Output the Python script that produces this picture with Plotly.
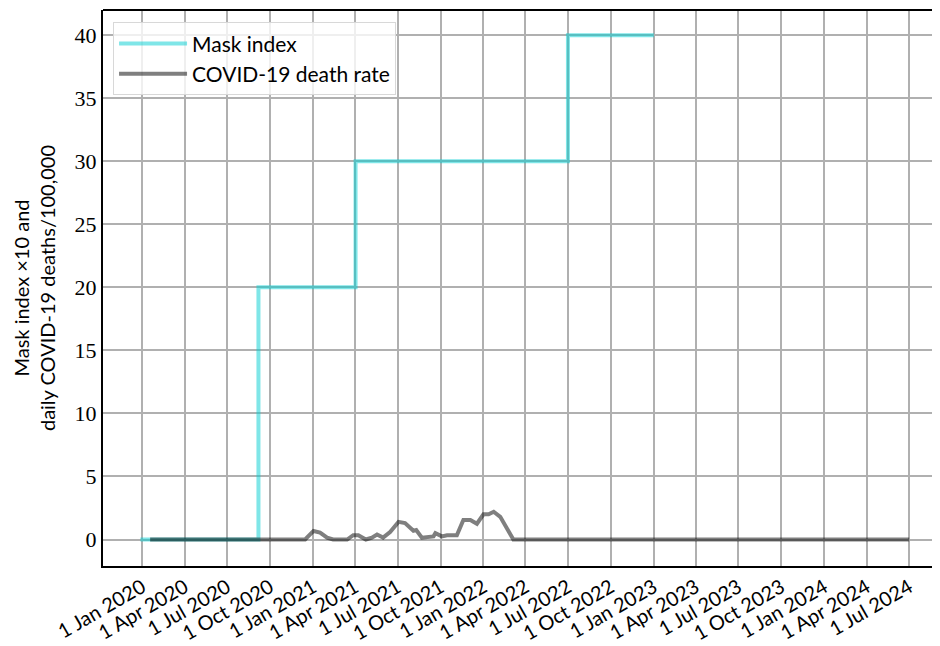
import plotly.graph_objects as go

# mask index (x10), step changes
mask_dates = ["2019-12-28", "2020-09-06", "2021-04-02", "2022-07-01", "2023-01-01"]
mask_values = [0, 20, 30, 40, 40]

# daily COVID-19 deaths per 100,000
death_dates = [
    "2020-01-18", "2020-12-15", "2021-01-02", "2021-01-16", "2021-01-31",
    "2021-02-13", "2021-03-15", "2021-03-28", "2021-04-08", "2021-04-24",
    "2021-05-07", "2021-05-18", "2021-05-31", "2021-06-15", "2021-07-03",
    "2021-07-17", "2021-08-04", "2021-08-10", "2021-08-22", "2021-09-16",
    "2021-09-20", "2021-10-04", "2021-10-15", "2021-11-05", "2021-11-19",
    "2021-12-04", "2021-12-18", "2022-01-01", "2022-01-12", "2022-01-23",
    "2022-02-06", "2022-03-06", "2024-07-01",
]
death_values = [
    0, 0, 0.68, 0.55, 0.15,
    0, 0, 0.34, 0.34, 0,
    0.15, 0.4, 0.15, 0.6, 1.4,
    1.3, 0.7, 0.75, 0.15, 0.25,
    0.5, 0.25, 0.34, 0.34, 1.55,
    1.55, 1.25, 2.0, 2.0, 2.2,
    1.8, 0, 0,
]

months = ["Jan", "Apr", "Jul", "Oct"]
tick_vals = [f"{y}-{m:02d}-01" for y in range(2020, 2025) for m in (1, 4, 7, 10)][:-1]
tick_text = [f"1 {months[i % 4]} {2020 + i // 4}" for i in range(len(tick_vals))]

fig = go.Figure()
fig.add_trace(go.Scatter(
    x=mask_dates, y=mask_values, mode="lines", line_shape="hv",
    name="Mask index", line=dict(color="rgba(0,206,209,0.5)", width=4),
))
fig.add_trace(go.Scatter(
    x=death_dates, y=death_values, mode="lines",
    name="COVID-19 death rate", line=dict(color="rgba(0,0,0,0.5)", width=4),
))

serif = "'Liberation Serif', 'DejaVu Serif', serif"
sans = "Lato, 'DejaVu Sans', sans-serif"

# page has an 8px body margin, so the figure is sized to fit the window
fig.update_layout(
    width=932, height=638,
    margin=dict(l=95, r=0, t=2, b=80),
    plot_bgcolor="white", paper_bgcolor="white",
    showlegend=True,
    legend=dict(
        x=0.012, y=0.978, xanchor="left", yanchor="top",
        bgcolor="rgba(255,255,255,0.8)", bordercolor="#d8d8d8", borderwidth=1,
        font=dict(family=sans, size=21, color="black"),
        itemwidth=68,
    ),
)
fig.update_xaxes(
    range=["2019-10-09", "2024-09-05"], automargin=False,
    tickvals=tick_vals, ticktext=tick_text, tickangle=-30,
    tickfont=dict(family=sans, size=20, color="black"),
    showgrid=True, gridcolor="#b0b0b0", gridwidth=1.5,
    showline=True, linecolor="black", linewidth=2, mirror=False,
    zeroline=False, ticks="",
)
fig.update_yaxes(
    range=[-2.1, 42], automargin=False,
    tickvals=list(range(0, 45, 5)),
    tickfont=dict(family=serif, size=22, color="black"),
    showgrid=True, gridcolor="#b0b0b0", gridwidth=1.5,
    showline=True, linecolor="black", linewidth=2,
    zeroline=False, ticks="",
    title=dict(text="Mask index ×10 and<br>daily COVID-19 deaths/100,000",
               font=dict(family=sans, size=20, color="black"), standoff=14),
)
# top spine (the right one is cut off in the reference)
fig.add_shape(type="line", xref="paper", yref="paper", x0=0, x1=1, y0=1, y1=1,
              line=dict(color="black", width=2))

fig.write_html("out.html")
